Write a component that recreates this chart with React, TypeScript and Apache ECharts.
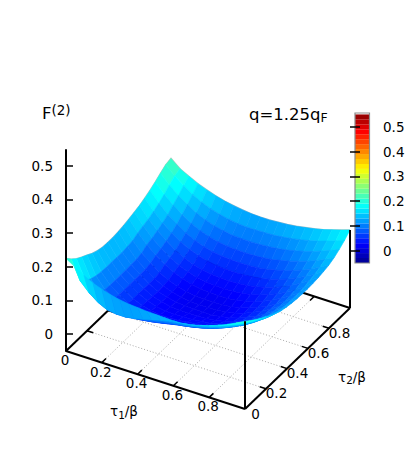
import React, { useEffect, useRef } from "react";
import * as echarts from "echarts";

const tau1Values = [0, .05, .1, .15, .2, .25, .3, .35, .4, .45, .5, .55, .6, .65, .7, .75, .8, .85, .9, .95, 1];
const tau2Values = [0, .05, .1, .15, .2, .25, .3, .35, .4, .45, .5, .55, .6, .65, .7, .75, .8, .85, .9, .95, 1];
// one row per tau2 value, one column per tau1 value
const surfaceRows = [
  [.225, .208, .192, .178, .168, .160, .154, .150, .148, .146, .145, .144, .143, .144, .148, .155, .163, .173, .184, .197, .211],
  [.208, .152, .125, .105, .092, .088, .088, .092, .098, .105, .112, .118, .122, .126, .131, .139, .147, .157, .169, .182, .197],
  [.194, .138, .107, .090, .079, .073, .072, .074, .078, .084, .091, .096, .100, .105, .112, .120, .129, .141, .154, .168, .185],
  [.184, .128, .096, .078, .066, .058, .056, .056, .060, .065, .071, .076, .081, .087, .094, .103, .113, .126, .140, .156, .174],
  [.175, .122, .090, .072, .057, .047, .044, .043, .045, .049, .055, .059, .064, .070, .078, .088, .099, .112, .127, .145, .164],
  [.165, .119, .088, .069, .052, .041, .036, .034, .035, .037, .041, .045, .050, .056, .064, .074, .086, .099, .115, .133, .153],
  [.158, .118, .088, .068, .050, .038, .031, .028, .028, .029, .032, .036, .039, .045, .053, .063, .075, .089, .106, .124, .145],
  [.154, .118, .088, .068, .050, .037, .029, .024, .023, .024, .025, .028, .031, .037, .045, .055, .067, .081, .098, .117, .138],
  [.153, .117, .088, .068, .050, .036, .028, .022, .020, .020, .020, .021, .025, .030, .038, .049, .061, .076, .093, .112, .134],
  [.153, .117, .089, .068, .049, .035, .027, .021, .018, .017, .017, .017, .021, .026, .034, .045, .057, .072, .090, .109, .131],
  [.155, .119, .090, .069, .050, .036, .027, .020, .016, .015, .015, .016, .020, .025, .033, .044, .056, .071, .088, .107, .129],
  [.158, .122, .093, .072, .053, .038, .028, .021, .017, .016, .016, .017, .020, .026, .034, .044, .056, .071, .088, .107, .128],
  [.162, .130, .103, .080, .062, .047, .036, .028, .023, .021, .020, .021, .024, .030, .037, .047, .059, .073, .089, .107, .128],
  [.167, .136, .108, .086, .067, .053, .042, .034, .029, .027, .026, .027, .030, .035, .042, .052, .063, .076, .092, .109, .129],
  [.172, .141, .115, .093, .074, .060, .049, .042, .037, .035, .034, .035, .038, .043, .050, .058, .069, .082, .096, .113, .131],
  [.179, .149, .123, .102, .084, .070, .060, .053, .048, .046, .045, .046, .049, .053, .059, .067, .077, .089, .102, .117, .134],
  [.187, .158, .133, .113, .096, .082, .072, .065, .061, .059, .058, .059, .061, .065, .071, .078, .087, .097, .109, .123, .138],
  [.197, .169, .146, .126, .109, .096, .087, .080, .076, .074, .073, .074, .076, .079, .085, .091, .099, .108, .119, .131, .145],
  [.208, .182, .159, .141, .125, .113, .104, .098, .093, .092, .091, .092, .094, .097, .101, .107, .114, .122, .132, .143, .155],
  [.218, .194, .174, .156, .142, .131, .123, .117, .113, .111, .111, .112, .113, .116, .120, .125, .131, .138, .147, .156, .167],
  [.222, .200, .186, .173, .163, .154, .147, .142, .138, .135, .134, .134, .136, .138, .141, .146, .151, .157, .165, .173, .182],
];
const baseTicks = [.2, .4, .6, .8];
const tau1TickLabels = ["0", "0.2", "0.4", "0.6", "0.8"];
const tau2TickLabels = ["0", "0.2", "0.4", "0.6", "0.8"];
const tickPositions = [0, .2, .4, .6, .8];
const zTicks = [0, .1, .2, .3, .4, .5];
const colorbarLevels = [-.05, -.03, -.01, .01, .03, .05, .07, .09, .11, .13, .15, .17, .19, .21, .23, .25, .27, .29, .31, .33, .35, .37, .39, .41, .43, .45, .47, .49, .51, .53];
const jetStops: [number, number, number, number][] = [
  [0, 0, 0, 143], [.125, 0, 0, 255], [.375, 0, 255, 255], [.625, 255, 255, 0], [.875, 255, 0, 0], [1, 128, 0, 0],
];

const Z_MIN = -0.05;
const Z_TOP = 0.547;
const CB_MAX = 0.556;
const FONT = "DejaVu Sans";

function jet(z: number) {
  const f = Math.max(0, Math.min(1, (z - Z_MIN) / (CB_MAX - Z_MIN)));
  for (let i = 1; i < jetStops.length; i++) {
    const a = jetStops[i - 1], b = jetStops[i];
    if (f <= b[0]) {
      const k = (f - a[0]) / (b[0] - a[0]);
      const c = [1, 2, 3].map((j) => Math.round(a[j] + (b[j] - a[j]) * k));
      return `rgb(${c[0]},${c[1]},${c[2]})`;
    }
  }
  return "rgb(128,0,0)";
}

// oblique view of the box, as in the picture
function project(s: number, t: number, z: number): [number, number] {
  return [66 + 179 * s + 105 * t, 351 + 58 * s - 101 * t - 336.6 * (z - Z_MIN)];
}

type Cell = { pts: [number, number][]; color: string };
function buildCells(): Cell[] {
  const cells: Cell[] = [];
  for (let j = tau2Values.length - 2; j >= 0; j--) {
    for (let i = 0; i < tau1Values.length - 1; i++) {
      const s0 = tau1Values[i], s1 = tau1Values[i + 1], t0 = tau2Values[j], t1 = tau2Values[j + 1];
      const a = surfaceRows[j][i], b = surfaceRows[j][i + 1], c = surfaceRows[j + 1][i + 1], d = surfaceRows[j + 1][i];
      cells.push({
        pts: [project(s0, t0, a), project(s1, t0, b), project(s1, t1, c), project(s0, t1, d)],
        color: jet((a + b + c + d) / 4),
      });
    }
  }
  return cells;
}

export default function App() {
  const ref = useRef<HTMLDivElement>(null);
  useEffect(() => {
    const chart = echarts.init(ref.current!, null, { renderer: "svg" });
    const cells = buildCells();
    const last = tau1Values.length - 1;
    const farEdge: [number, number][] = [
      ...surfaceRows.map((row, j) => project(0, tau2Values[j], row[0])),
      ...surfaceRows[last].map((z, i) => project(tau1Values[i], 1, z)),
    ];
    const seg = (api: any, p: [number, number], q: [number, number], style: any) => {
      const a = api.coord(p), b = api.coord(q);
      return { type: "line", shape: { x1: a[0], y1: a[1], x2: b[0], y2: b[1] }, style };
    };
    const text = (api: any, p: [number, number], s: string) => {
      const a = api.coord(p);
      return {
        type: "text", x: a[0], y: a[1],
        style: { text: s, align: "center", verticalAlign: "middle", fill: "#000", fontSize: 13.5, fontFamily: FONT },
      };
    };
    const dotted = { stroke: "#aaa", lineWidth: 1, lineDash: [1, 2] };
    const solid = { stroke: "#000", lineWidth: 2 };
    const thin = { stroke: "#000", lineWidth: 1.5 };
    const B = (s: number, t: number) => project(s, t, Z_MIN);

    chart.setOption({
      animation: false,
      grid: [
        { left: 0, top: 0, width: 415, height: 475 },
        { left: 66, top: 150, width: 100, height: 201 },
        { left: 355, top: 113, width: 14.5, height: 150 },
      ],
      xAxis: [
        { type: "value", gridIndex: 0, min: 0, max: 415, show: false },
        { type: "value", gridIndex: 1, min: 0, max: 1, show: false },
        { type: "value", gridIndex: 2, min: 0, max: 1, show: false },
      ],
      yAxis: [
        { type: "value", gridIndex: 0, min: 0, max: 475, inverse: true, show: false },
        {
          type: "value", gridIndex: 1, min: Z_MIN, max: Z_TOP, position: "left", z: 6,
          axisLine: { show: true, lineStyle: { color: "#000", width: 2 } },
          axisTick: { show: true, inside: true, length: 7, customValues: zTicks, lineStyle: { color: "#000", width: 1.5 } },
          axisLabel: { show: true, customValues: zTicks, margin: 13, color: "#000", fontSize: 13.5, fontFamily: FONT, formatter: (v: number) => String(+v.toFixed(1)) },
          splitLine: { show: false },
        },
        {
          type: "value", gridIndex: 2, min: Z_MIN, max: CB_MAX, position: "right", z: 6,
          axisLine: { show: false },
          axisTick: { show: true, inside: true, length: 5, customValues: zTicks, lineStyle: { color: "#000", width: 1.5 } },
          axisLabel: { show: true, customValues: zTicks, margin: 13.5, color: "#000", fontSize: 13.5, fontFamily: FONT, formatter: (v: number) => String(+v.toFixed(1)) },
          splitLine: { show: false },
        },
        {
          type: "value", gridIndex: 2, min: Z_MIN, max: CB_MAX, position: "left", z: 6,
          axisLine: { show: false },
          axisTick: { show: true, inside: true, length: 5, customValues: zTicks, lineStyle: { color: "#000", width: 1.5 } },
          axisLabel: { show: false },
          splitLine: { show: false },
        },
      ],
      series: [
        {
          // floor of the box: dotted grid, border, ticks, tick labels
          type: "custom", xAxisIndex: 0, yAxisIndex: 0, clip: false, silent: true, z: 2,
          data: [[0, 0]],
          renderItem: (_: any, api: any) => ({
            type: "group",
            children: [
              ...baseTicks.map((v) => seg(api, B(v, 0), B(v, 1), dotted)),
              ...baseTicks.map((v) => seg(api, B(0, v), B(1, v), dotted)),
              seg(api, B(0, 0), B(1, 0), solid),
              seg(api, B(1, 0), B(1, 1), solid),
              seg(api, B(1, 1), B(0, 1), solid),
              seg(api, B(0, 1), B(0, 0), solid),
              ...baseTicks.map((v) => seg(api, B(v, 0), B(v, 0.04), thin)),
              ...baseTicks.map((v) => seg(api, B(v, 1), B(v, 0.96), thin)),
              ...baseTicks.map((v) => seg(api, B(1, v), B(0.965, v), thin)),
              ...baseTicks.map((v) => seg(api, B(0, v), B(0.035, v), thin)),
              ...tickPositions.map((v, i) => {
                const p = B(v, 0);
                return text(api, [p[0] - 1, p[1] + 9], tau1TickLabels[i]);
              }),
              ...tickPositions.map((v, i) => {
                const p = B(1, v);
                return text(api, [p[0] + 10.5, p[1] + 4.5], tau2TickLabels[i]);
              }),
            ],
          }),
        },
        {
          // pale rim on the two far edges
          type: "custom", xAxisIndex: 0, yAxisIndex: 0, clip: false, silent: true, z: 3,
          data: [[0, 0]],
          renderItem: (_: any, api: any) => ({
            type: "polyline",
            shape: { points: farEdge.map((p) => api.coord(p)) },
            style: { stroke: "#c4c4c4", lineWidth: 1.4, fill: "none" },
          }),
        },
        {
          type: "custom", xAxisIndex: 0, yAxisIndex: 0, clip: false, silent: true, z: 4,
          data: cells.map((_, i) => [i, 0]),
          renderItem: (params: any, api: any) => {
            const c = cells[params.dataIndex];
            return {
              type: "polygon",
              shape: { points: c.pts.map((p) => api.coord(p)) },
              style: { fill: c.color, stroke: c.color, lineWidth: 0.6 },
            };
          },
        },
        {
          // the two upright edges of the box
          type: "custom", xAxisIndex: 0, yAxisIndex: 0, clip: false, silent: true, z: 5,
          data: [[0, 0]],
          renderItem: (_: any, api: any) => ({
            type: "group",
            children: [
              seg(api, B(1, 0), project(1, 0, surfaceRows[0][last]), solid),
              seg(api, B(1, 1), project(1, 1, surfaceRows[last][last]), solid),
            ],
          }),
        },
        {
          // colour bar
          type: "custom", xAxisIndex: 2, yAxisIndex: 2, clip: false, silent: true, z: 3,
          data: colorbarLevels.map((v) => [0.5, v]),
          renderItem: (params: any, api: any) => {
            const lo = colorbarLevels[params.dataIndex];
            const a = api.coord([0, lo]);
            const b = api.coord([1, lo + 0.0202]);
            return {
              type: "rect",
              shape: { x: a[0], y: b[1], width: b[0] - a[0], height: a[1] - b[1] },
              style: { fill: jet(lo + 0.01) },
            };
          },
        },
        {
          type: "custom", xAxisIndex: 2, yAxisIndex: 2, clip: false, silent: true, z: 4,
          data: [[0.5, 0]],
          renderItem: (_: any, api: any) => {
            const a = api.coord([0, Z_MIN]);
            const b = api.coord([1, CB_MAX]);
            return {
              type: "rect",
              shape: { x: a[0], y: b[1], width: b[0] - a[0], height: a[1] - b[1] },
              style: { fill: "none", stroke: "#8a8a8a", lineWidth: 1.2 },
            };
          },
        },
      ],
      graphic: [
        {
          type: "text", left: 42, top: 103, silent: true,
          style: {
            text: "{m|F}{s|(2)}", fontFamily: FONT, fill: "#000",
            rich: {
              m: { fontSize: 16.5, fontFamily: FONT, lineHeight: 26, fill: "#000" },
              s: { fontSize: 13.5, fontFamily: FONT, height: 20, verticalAlign: "top", fill: "#000" },
            },
          },
        },
        {
          type: "text", left: 249, top: 105.5, silent: true,
          style: {
            text: "{m|q=1.25q}{s|F}", fontFamily: FONT, fill: "#000",
            rich: {
              m: { fontSize: 16.5, fontFamily: FONT, lineHeight: 24, fill: "#000" },
              s: { fontSize: 12.5, fontFamily: FONT, height: 18, verticalAlign: "bottom", fill: "#000" },
            },
          },
        },
        {
          type: "text", left: 110, top: 404, silent: true,
          style: {
            text: "{m|τ}{s|1}{m|/β}", fontFamily: FONT, fill: "#000",
            rich: {
              m: { fontSize: 13.5, fontFamily: FONT, lineHeight: 20, fill: "#000" },
              s: { fontSize: 10.5, fontFamily: FONT, height: 13, verticalAlign: "bottom", fill: "#000" },
            },
          },
        },
        {
          type: "text", left: 338, top: 369.5, silent: true,
          style: {
            text: "{m|τ}{s|2}{m|/β}", fontFamily: FONT, fill: "#000",
            rich: {
              m: { fontSize: 13.5, fontFamily: FONT, lineHeight: 20, fill: "#000" },
              s: { fontSize: 10.5, fontFamily: FONT, height: 13, verticalAlign: "bottom", fill: "#000" },
            },
          },
        },
      ],
    });
    return () => chart.dispose();
  }, []);
  return <div ref={ref} style={{ position: "absolute", left: 0, top: 0, width: 415, height: 475 }} />;
}
